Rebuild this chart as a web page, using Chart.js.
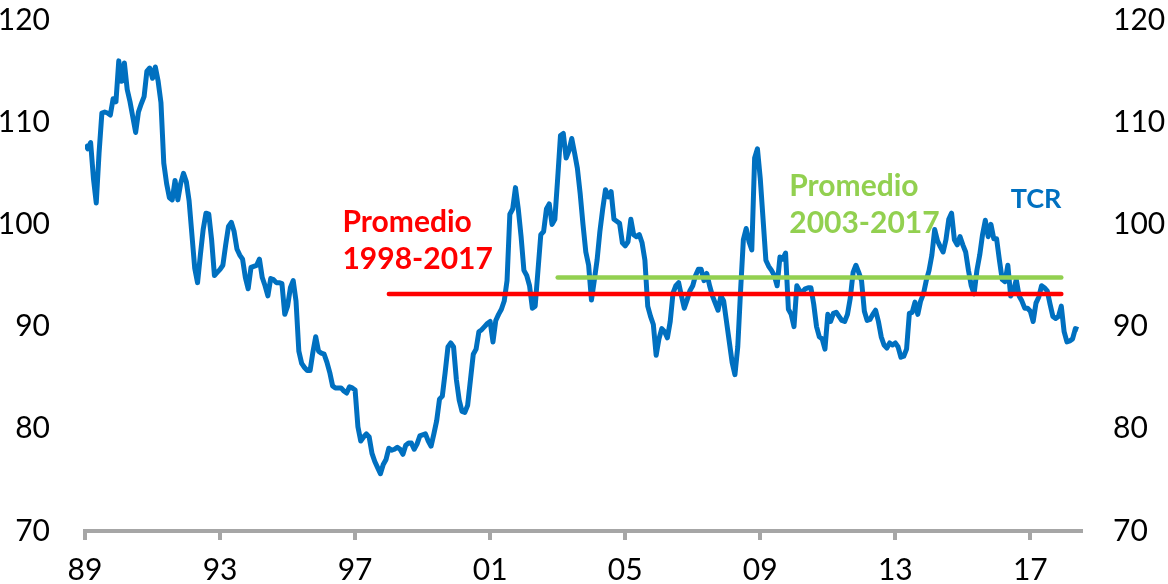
<!DOCTYPE html>
<html>
<head>
  <meta charset="utf-8">
  <title>TCR</title>
  <script src="https://cdn.jsdelivr.net/npm/chart.js"></script>
  <style>
    body { margin: 0; background: #fff; }
    #wrap { width: 1168px; height: 584px; }
  </style>
</head>
<body>

<div id="wrap"><canvas id="tcrChart" width="1168" height="584"></canvas></div>

<script>
  // TCR mensual, ene-1989 a jun-2018 (una fila por año)
  const tcr = [
    107.8, 107.4, 108.0, 104.5, 102.1, 107.0, 110.9, 111.0, 110.9, 110.7, 112.3, 112.0, // 89
    116.0, 114.0, 115.8, 113.2, 112.0, 110.5, 109.0, 111.0, 111.8, 112.5, 115.0, 115.3, // 90
    114.3, 115.4, 114.0, 111.9, 106.0, 104.0, 102.6, 102.4, 104.3, 102.4, 104.0, 105.0, // 91
    104.2, 102.3, 99.0, 95.7, 94.3, 97.0, 99.5, 101.1, 101.0, 98.5, 95.0, 95.3,         // 92
    95.6, 96.0, 98.0, 99.8, 100.2, 99.3, 97.6, 97.0, 96.6, 94.8, 93.7, 95.8,            // 93
    95.9, 96.0, 96.6, 94.8, 94.0, 93.0, 94.7, 94.6, 94.3, 94.3, 94.2, 91.2,             // 94
    92.0, 93.8, 94.5, 92.5, 87.6, 86.4, 86.0, 85.7, 85.7, 87.5, 89.0, 87.6,             // 95
    87.4, 87.3, 86.5, 85.5, 84.2, 84.0, 84.0, 84.0, 83.7, 83.5, 84.1, 84.0,             // 96
    83.8, 80.2, 78.8, 79.2, 79.5, 79.2, 77.6, 76.8, 76.2, 75.6, 76.5, 77.0,             // 97
    78.1, 77.9, 78.0, 78.2, 78.0, 77.5, 78.4, 78.6, 78.6, 78.0, 78.5, 79.3,             // 98
    79.4, 79.5, 78.8, 78.3, 79.5, 80.8, 82.9, 83.2, 85.5, 88.0, 88.4, 88.0,             // 99
    84.8, 82.8, 81.7, 81.6, 82.3, 84.8, 87.3, 87.8, 89.5, 89.7, 90.0, 90.3,             // 00
    90.5, 88.5, 90.6, 91.2, 91.7, 92.5, 94.5, 101.0, 101.5, 103.6, 101.5, 98.8,         // 01
    95.5, 95.0, 94.0, 91.8, 92.0, 95.5, 99.0, 99.3, 101.5, 102.0, 100.0, 100.5,         // 02
    104.5, 108.7, 108.9, 106.5, 107.2, 108.4, 107.0, 105.5, 103.0, 100.0, 97.3, 96.0,   // 03
    92.6, 94.5, 96.5, 99.3, 101.5, 103.4, 102.7, 103.2, 100.5, 100.3, 100.1, 98.2,      // 04
    97.9, 98.3, 100.5, 99.0, 98.8, 99.0, 98.2, 96.5, 92.0, 91.0, 90.2, 87.2,            // 05
    88.8, 89.8, 89.5, 88.9, 90.5, 93.3, 94.0, 94.3, 93.0, 91.8, 92.6, 93.5,             // 06
    94.0, 95.0, 95.6, 95.6, 94.5, 95.2, 94.0, 93.0, 92.3, 91.6, 93.0, 92.5,             // 07
    90.5, 88.5, 86.5, 85.3, 88.0, 93.5, 98.5, 99.6, 98.3, 97.5, 106.5, 107.4,           // 08
    104.5, 100.5, 96.5, 95.9, 95.5, 95.0, 94.0, 96.8, 96.6, 97.2, 91.7, 91.2,           // 09
    90.0, 94.0, 93.5, 93.4, 93.7, 93.8, 93.8, 92.2, 90.0, 89.0, 88.8, 87.8,             // 10
    91.2, 90.5, 91.3, 91.4, 91.0, 90.6, 90.5, 91.2, 92.8, 95.3, 96.0, 95.3,             // 11
    94.5, 91.5, 90.6, 90.7, 91.2, 91.6, 90.5, 89.0, 88.2, 87.9, 88.4, 88.2,             // 12
    88.4, 88.0, 87.0, 87.1, 87.8, 91.3, 91.4, 92.4, 91.2, 92.5, 93.2, 94.5,             // 13
    95.5, 97.0, 99.5, 98.4, 97.8, 97.3, 98.5, 100.5, 101.1, 98.5, 98.0, 98.8,           // 14
    98.0, 97.3, 95.5, 94.0, 93.2, 95.5, 97.0, 99.0, 100.4, 98.8, 100.0, 98.6,           // 15
    98.6, 96.5, 94.6, 94.4, 96.0, 93.0, 93.5, 94.6, 93.0, 92.5, 91.8, 91.8,             // 16
    91.5, 90.5, 92.3, 92.9, 94.0, 93.8, 93.5, 92.2, 91.0, 90.8, 91.0, 92.0,             // 17
    89.5, 88.5, 88.6, 88.8, 89.8, 89.7                                                  // 18
  ];

  const yearLabels = ['89', '93', '97', '01', '05', '09', '13', '17']; // cada 48 meses

  // promedios: [mes inicio, mes fin] (índice desde ene-1989) y valor
  const avg9817Range = [108, 347];
  const avg9817 = 93.2;
  const avg0317Range = [168, 347];
  const avg0317 = 94.8;

  // textos sobre el gráfico: posición en meses / valor del eje
  const notes = [
    { text: 'Promedio',  x: 91.5,  y: 99.3,  color: '#FF0000', size: 30 },
    { text: '1998-2017', x: 91.5,  y: 95.6,  color: '#FF0000', size: 30 },
    { text: 'Promedio',  x: 250.3, y: 102.8, color: '#92D050', size: 30 },
    { text: '2003-2017', x: 250.3, y: 99.2,  color: '#92D050', size: 30 },
    { text: 'TCR',       x: 329,   y: 101.6, color: '#0070C0', size: 27 }
  ];

  const FONT = 'Lato';

  const tcrPoints = tcr.map((v, i) => ({ x: i, y: v }));
  const lineOf = (range, v) => [{ x: range[0], y: v }, { x: range[1], y: v }];

  // plugin para los textos
  const notesPlugin = {
    id: 'notes',
    afterDatasetsDraw(chart) {
      const ctx = chart.ctx;
      const xs = chart.scales.x, ys = chart.scales.y;
      ctx.save();
      ctx.textAlign = 'left';
      ctx.textBaseline = 'alphabetic';
      notes.forEach(n => {
        ctx.font = 'bold ' + n.size + 'px ' + FONT;
        ctx.fillStyle = n.color;
        ctx.fillText(n.text, xs.getPixelForValue(n.x), ys.getPixelForValue(n.y));
      });
      ctx.restore();
    }
  };

  const yTicks = {
    stepSize: 10,
    color: '#000',
    font: { family: FONT, size: 30 }
  };

  // sin relleno extra de las etiquetas en los bordes del área
  const noPad = s => { s.paddingTop = 0; s.paddingBottom = 0; s.paddingLeft = 0; s.paddingRight = 0; };

  const ctx = document.getElementById('tcrChart').getContext('2d');
  const chart = new Chart(ctx, {
    type: 'line',
    data: {
      datasets: [
        {
          label: 'TCR',
          data: tcrPoints,
          borderColor: '#0070C0',
          borderWidth: 5,
          borderJoinStyle: 'round',
          pointRadius: 0,
          tension: 0,
          order: 2
        },
        {
          label: 'Promedio 1998-2017',
          data: lineOf(avg9817Range, avg9817),
          borderColor: '#FF0000',
          borderWidth: 4.5,
          borderCapStyle: 'round',
          pointRadius: 0,
          order: 1
        },
        {
          label: 'Promedio 2003-2017',
          data: lineOf(avg0317Range, avg0317),
          borderColor: '#92D050',
          borderWidth: 4.5,
          borderCapStyle: 'round',
          pointRadius: 0,
          order: 1
        }
      ]
    },
    options: {
      responsive: false,
      animation: false,
      layout: { padding: { top: 20, right: 0, bottom: 0, left: 0 } },
      plugins: {
        legend: { display: false },
        tooltip: { enabled: false }
      },
      scales: {
        x: {
          type: 'linear',
          position: 'bottom',
          min: 0,
          max: 354,
          afterBuildTicks: s => { s.ticks = yearLabels.map((_, i) => ({ value: i * 48 })); },
          afterFit: s => { s.height = 53; noPad(s); },
          ticks: {
            autoSkip: false,
            maxRotation: 0,
            padding: 12,
            color: '#000',
            font: { family: FONT, size: 30 },
            callback: v => yearLabels[v / 48]
          },
          grid: { drawOnChartArea: false, tickLength: 9, color: '#A6A6A6', lineWidth: 4 },
          border: { color: '#A6A6A6', width: 4 }
        },
        y: {
          position: 'left',
          min: 70,
          max: 120,
          ticks: Object.assign({ padding: 27 }, yTicks),
          grid: { display: false },
          border: { display: false },
          afterFit: s => { s.width = 85; noPad(s); }
        },
        y2: {
          position: 'right',
          min: 70,
          max: 120,
          ticks: Object.assign({ padding: 24 }, yTicks),
          grid: { display: false },
          border: { display: false },
          afterFit: s => { s.width = 87; noPad(s); }
        }
      }
    },
    plugins: [notesPlugin]
  });
</script>

</body>
</html>
